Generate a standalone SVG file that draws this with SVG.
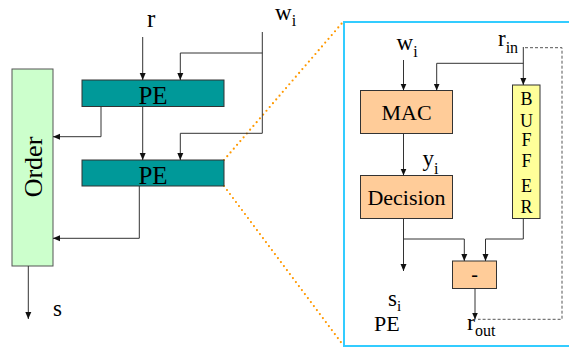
<svg xmlns="http://www.w3.org/2000/svg" width="569" height="350" viewBox="0 0 569 350" font-family="'Liberation Serif', 'DejaVu Serif', serif">
<style>
text, tspan { font-family: "Liberation Serif", "DejaVu Serif", serif; fill: #000; }
.c{fill:none;stroke:#333;stroke-width:1}
.a{marker-end:url(#ah)}
.dash{fill:none;stroke:#555;stroke-width:1;stroke-dasharray:3,2}
.dot{fill:none;stroke:#ff9900;stroke-width:2.2;stroke-dasharray:0,5;stroke-linecap:round}
.pe{fill:#009999;stroke:#333;stroke-width:1}
.org{fill:#ffcc99;stroke:#333;stroke-width:1}
</style>
<defs>
<marker id="ah" markerUnits="userSpaceOnUse" markerWidth="8" markerHeight="8" viewBox="0 0 8 8" refX="7" refY="4" orient="auto">
<path d="M0,1 L7,4 L0,7 Z" fill="#111"/>
</marker>
</defs>

<g id="zoom-lines">
<line class="dot" x1="224" y1="160" x2="343" y2="22"/>
<line class="dot" x1="224" y1="186" x2="343" y2="345"/>
</g>

<g id="detail-frame">
<rect x="344" y="22" width="230" height="324" fill="none" stroke="#33ccff" stroke-width="2"/>
</g>

<g id="order">
<rect x="12" y="69" width="41" height="197" fill="#ccffcc" stroke="#555" stroke-width="1"/>
<text x="42" y="167" font-size="26" text-anchor="middle" transform="rotate(-90 42 167)">Order</text>
</g>

<g id="pe1">
<rect class="pe" x="82" y="80" width="142" height="26.5"/>
<text x="153" y="104" font-size="25" text-anchor="middle">PE</text>
</g>

<g id="pe2">
<rect class="pe" x="82" y="160" width="142" height="26"/>
<text x="153" y="183.5" font-size="25" text-anchor="middle">PE</text>
</g>

<g id="labels-left">
<text x="147" y="26.5" font-size="25">r</text>
<text x="275" y="19.5" font-size="23">w<tspan font-size="16" dy="6.5">i</tspan></text>
<text x="53" y="316" font-size="23">s</text>
</g>

<g id="mac">
<rect class="org" x="360.5" y="90.5" width="92" height="43"/>
<text x="406.5" y="120" font-size="22" text-anchor="middle">MAC</text>
</g>

<g id="decision">
<rect class="org" x="360.5" y="175.5" width="92" height="43"/>
<text x="406.5" y="205" font-size="22" text-anchor="middle">Decision</text>
</g>

<g id="buffer">
<rect x="512.5" y="85" width="27.5" height="133.5" fill="#ffff99" stroke="#333" stroke-width="1"/>
<g font-size="18" text-anchor="middle">
<text x="526.5" y="105">B</text>
<text x="526.5" y="126.5">U</text>
<text x="526.5" y="146">F</text>
<text x="526.5" y="167">F</text>
<text x="526.5" y="192">E</text>
<text x="526.5" y="213">R</text>
</g>
</g>

<g id="subtract">
<rect class="org" x="452.5" y="261" width="44" height="27.5"/>
<text x="474.5" y="281" font-size="20" text-anchor="middle">-</text>
</g>

<g id="labels-right">
<text x="396.5" y="50" font-size="23">w<tspan font-size="16" dy="7">i</tspan></text>
<text x="498" y="45.5" font-size="23">r<tspan font-size="16" dy="7">in</tspan></text>
<text x="422.5" y="166" font-size="23">y<tspan font-size="16" dy="8">i</tspan></text>
<text x="388" y="306" font-size="23">s<tspan font-size="15" dy="4.5">i</tspan></text>
<text x="374" y="331" font-size="22">PE</text>
<text x="467" y="330" font-size="24">r<tspan font-size="16" dy="6">out</tspan></text>
</g>

<g id="connectors">
<path class="c a" d="M142.7,37 V80"/>
<path class="c" d="M262.3,32 V133.3"/>
<path class="c a" d="M262.3,53 H180.3 V80"/>
<path class="c a" d="M262.3,133.3 H180.3 V160"/>
<path class="c a" d="M142.7,106.5 V160"/>
<path class="c a" d="M101,106.5 V136.7 H53"/>
<path class="c a" d="M139.3,186 V238.3 H53"/>
<path class="c a" d="M28.3,266 V319"/>
<path class="c a" d="M403.5,60 V90.5"/>
<path class="c a" d="M523.3,47 V85"/>
<path class="c a" d="M523.3,63.3 H436.7 V90.5"/>
<path class="c a" d="M403.5,133.5 V175.5"/>
<path class="c a" d="M403.5,218.5 V271"/>
<path class="c a" d="M403.5,239 H464.3 V261"/>
<path class="c a" d="M523.3,218.5 V239 H485.5 V261"/>
<path class="c a" d="M475,288.5 V319.5"/>
<path class="dash" d="M525,47.7 H562 V319.3 H478"/>
</g>
</svg>
